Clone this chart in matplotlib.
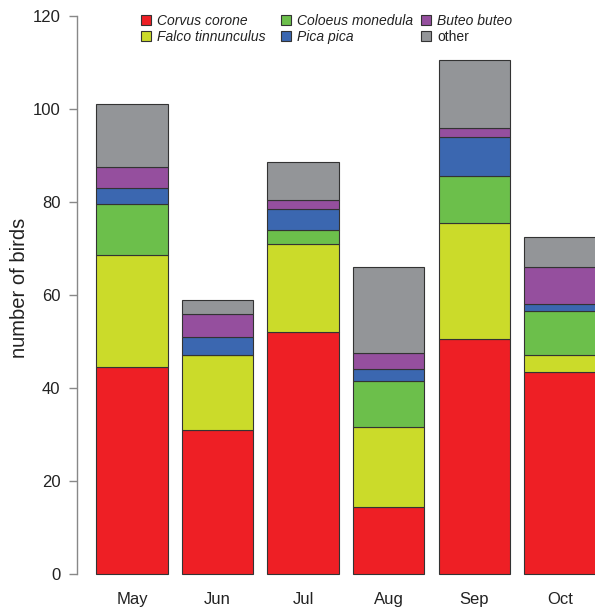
import numpy as np
import matplotlib.pyplot as plt
from matplotlib.lines import Line2D

plt.rcParams['font.family'] = ['Liberation Sans', 'DejaVu Sans']

months = ['May', 'Jun', 'Jul', 'Aug', 'Sep', 'Oct']
species = ['Corvus corone', 'Falco tinnunculus', 'Coloeus monedula',
           'Pica pica', 'Buteo buteo', 'other']

corvus = [44.5, 31, 52, 14.5, 50.5, 43.5]
falco = [24, 16, 19, 17, 25, 3.5]
coloeus = [11, 0, 3, 10, 10, 9.5]
pica = [3.5, 4, 4.5, 2.5, 8.5, 1.5]
buteo = [4.5, 5, 2, 3.5, 2, 8]
other = [13.5, 3, 8, 18.5, 14.5, 6.5]

colors = ['#ee1f25', '#cbdb2a', '#6cbf4b', '#3b67b0', '#954f9e', '#939598']

fig = plt.figure(figsize=(5.95, 6.10), dpi=100)
ax = fig.add_axes([0.1294, 0.0438, 0.904, 0.9453])

x = np.arange(len(months))
bottom = np.zeros(len(months))
handles = []
for vals, col, name in zip([corvus, falco, coloeus, pica, buteo, other], colors, species):
    ax.bar(x, vals, width=0.8333, bottom=bottom, color=col,
           edgecolor='#333333', linewidth=0.8)
    bottom += np.array(vals)
    handles.append(Line2D([], [], marker='s', linestyle='none', markersize=6.5,
                          markerfacecolor=col, markeredgecolor='#333333',
                          markeredgewidth=0.8, label=name))

ax.set_xlim(-0.6425, 5.6425)
ax.set_ylim(-2, 122)
ax.set_yticks(range(0, 121, 20))
ax.set_xticks(x)
ax.set_xticklabels(months)

for s in ['top', 'right', 'bottom']:
    ax.spines[s].set_visible(False)
ax.spines['left'].set_bounds(0, 120)
ax.spines['left'].set_color('#888888')
ax.spines['left'].set_linewidth(1)
ax.tick_params(axis='y', length=6, width=1, color='#888888', pad=6,
               labelsize=12, labelcolor='#222222')
ax.tick_params(axis='x', length=0, pad=6, labelsize=12, labelcolor='#222222')
ax.set_ylabel('number of birds', fontsize=14.5, color='#222222')
ax.yaxis.set_label_coords(-0.0892, 0.513)

# legend laid out as three equal-width columns, two entries each
col_x = [141, 281, 421]
for i, cx in enumerate(col_x):
    leg = fig.legend(handles=handles[2 * i:2 * i + 2], loc='upper left',
                     bbox_to_anchor=(cx / 595, 1 - 14 / 610), frameon=False,
                     borderpad=0, borderaxespad=0, handletextpad=0.5,
                     labelspacing=0.12, handlelength=0.65,
                     prop={'size': 10, 'style': 'italic'})
    for t in leg.get_texts():
        if t.get_text() == 'other':
            t.set_fontstyle('normal')
        t.set_color('#222222')

fig.savefig('out.png', dpi=100)
